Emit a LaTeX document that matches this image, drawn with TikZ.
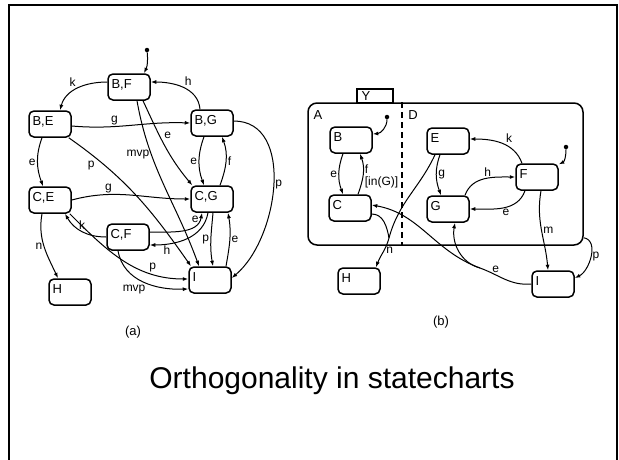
\documentclass[tikz,border=0pt]{standalone}
\usepackage{fontspec}
\setmainfont{Liberation Sans}
\usetikzlibrary{arrows.meta,positioning}

\begin{document}
\begin{tikzpicture}[x=1pt, y=-1pt,
        state/.style={rectangle, rounded corners=5pt, draw, line width=1.5pt, minimum width=42pt, text width=35pt, align=left, inner xsep=3.5pt, inner ysep=2pt, text height=12pt, text depth=10pt, font=\fontsize{13}{13}\selectfont},
        trans/.style={-{Latex[length=5.5pt,width=4pt]}, line width=1pt},
        plain/.style={line width=1pt},
        lbl/.style={font=\fontsize{12}{12}\selectfont, inner sep=1.5pt},
        dot/.style={circle, fill, inner sep=0pt, minimum size=4.5pt}
    ]
        \useasboundingbox (0,0) rectangle (619,459);
        \draw[line width=2pt] (9,5) rectangle (617,480);

        % (a) product automaton
        \node[state] (bf) at (129,87) {B,F};
        \node[state] (be) at (50,124) {B,E};
        \node[state] (bg) at (212,123) {B,G};
        \node[state] (ce) at (50,200) {C,E};
        \node[state] (cg) at (212,199) {C,G};
        \node[state] (cf) at (128,237) {C,F};
        \node[state] (ha) at (70,292) {H};
        \node[state] (ia) at (210,280) {I};
        \node[dot] (dbf) at (147,50) {};
        \node[lbl, font=\fontsize{13}{13}\selectfont] (capa) at (133,332) {(a)};

        \draw[trans] (dbf) to[out=-85,in=65] ([xshift=15pt]bf.north);
        \draw[trans] ([yshift=5pt]bf.west) to[out=180,in=75] node[lbl, above left] {k} ([xshift=10pt]be.north);
        \draw[trans] ([xshift=-12pt]bg.north) to[out=95,in=0] node[lbl, above right] {h} ([yshift=5pt]bf.east);
        \draw[trans] ([yshift=-2pt]be.east) to[out=-5,in=178] node[lbl, above, pos=0.35] {g} (bg.west);
        \draw[trans] ([xshift=-8pt]be.south) to[out=-110,in=110] node[lbl, left] {e} ([xshift=-7pt]ce.north);
        \draw[trans] ([xshift=-3pt]be.south east) to[out=-35,in=125] node[lbl, below left, pos=0.18] {p} ([xshift=-19pt]ia.north);
        \draw[trans] ([xshift=8pt]bf.south) to[out=-80,in=110] node[lbl, left, pos=0.3] {mvp} ([xshift=-11pt]ia.north);
        \draw[trans] ([xshift=14pt]bf.south) to[out=-65,in=130] node[lbl, above right, pos=0.45] {e} ([xshift=2pt]cg.north west);
        \draw[trans] ([xshift=-8pt]bg.south) to[out=-110,in=110] node[lbl, left] {e} ([xshift=-8pt]cg.north);
        \draw[trans] ([xshift=8pt]cg.north) to[out=70,in=-70] node[lbl, right] {f} ([xshift=10pt]bg.south);
        \draw[trans] ([yshift=2pt]bg.east) to[out=0,in=40] node[lbl, right] {p} ([yshift=2pt]ia.east);
        \draw[trans] (ce.east) to[out=15,in=180] node[lbl, above, pos=0.3] {g} (cg.west);
        \draw[trans] ([xshift=-8pt]ce.south) to[out=-100,in=115] node[lbl, left] {n} ([xshift=-12pt]ha.north);
        \draw[trans] (cf.west) to[out=180,in=-60] node[lbl, above] {k} ([xshift=15pt]ce.south);
        \draw[trans] ([yshift=5pt]cf.east) to[out=0,in=-100] node[lbl, above, pos=0.75] {e} ([xshift=-10pt]cg.south);
        \draw[trans] ([xshift=-4pt]cg.south) to[out=-100,in=0] node[lbl, below, pos=0.78] {h} ([yshift=-8pt]cf.east);
        \draw[trans] ([xshift=1pt]cg.south) to[out=-95,in=100] node[lbl, left] {p} ([xshift=3pt]ia.north);
        \draw[trans] ([xshift=16pt]ia.north) to[out=80,in=-80] node[lbl, right] {e} ([xshift=16pt]cg.south);
        \draw[trans] ([xshift=-2pt]ce.south east) to[out=-45,in=180] node[lbl, above, pos=0.75] {p} ([yshift=1pt]ia.west);
        \draw[trans] ([xshift=-10pt]cf.south) to[out=-80,in=182] node[lbl, below left, pos=0.55] {mvp} ([yshift=-9pt]ia.west);

        % (b) orthogonal components
        \node[draw, rounded corners=9pt, line width=1.5pt, minimum width=275pt, minimum height=142pt] (abox) at (445.5,174) {};
        \node[draw, line width=1.5pt, minimum width=36pt, minimum height=14pt, inner sep=0pt, font=\fontsize{13}{13}\selectfont] (ytab) at (375,96) {\hspace*{-18pt}Y};
        \draw[line width=1.3pt, dash pattern=on 6pt off 4pt] ([xshift=-43.5pt]abox.north) -- ([xshift=-43.5pt]abox.south);
        \node[lbl, font=\fontsize{13}{13}\selectfont] (la) at (318,115) {A};
        \node[lbl, font=\fontsize{13}{13}\selectfont] (ld) at (413,115) {D};

        \node[state] (b) at (351,140) {B};
        \node[state] (c) at (350,208) {C};
        \node[state] (e) at (448,141) {E};
        \node[state] (g) at (448,209) {G};
        \node[state] (f) at (537,177) {F};
        \node[state] (hb) at (359,281) {H};
        \node[state] (ib) at (553,284) {I};
        \node[dot] (db) at (387,117) {};
        \node[dot] (df) at (566,147) {};
        \coordinate (nj) at (389,238);
        \coordinate (ej) at (480,268);
        \node[lbl, font=\fontsize{13}{13}\selectfont] (capb) at (441,322) {(b)};

        \draw[trans] (db) to[out=-90,in=5] ([yshift=6pt]b.east);
        \draw[trans] ([xshift=-8pt]b.south) to[out=-110,in=110] node[lbl, left] {e} ([xshift=-7pt]c.north);
        \draw[trans] ([xshift=8pt]c.north) to[out=70,in=-70] node[lbl, right, align=left, pos=0.45] {f\\{[in(G)]}} ([xshift=9pt]b.south);
        \draw[trans] ([xshift=-15pt]f.north) to[out=110,in=0] node[lbl, above right, pos=0.45] {k} ([yshift=2pt]e.east);
        \draw[trans] (df) to[out=-90,in=25] ([yshift=-1pt]f.north east);
        \draw[trans] ([xshift=-8pt]e.south) to[out=-110,in=110] node[lbl, right] {g} ([xshift=-7pt]g.north);
        \draw[trans] ([xshift=17pt]g.north) to[out=70,in=180] node[lbl, above, pos=0.55] {h} (f.west);
        \draw[trans] ([xshift=-12pt]f.south) to[out=-110,in=0] node[lbl, below, pos=0.45] {e} (g.east);
        \draw[trans] ([xshift=4pt]f.south) to[out=-100,in=95] node[lbl, right] {m} ([xshift=-5pt]ib.north);
        \draw[trans] ([yshift=8pt]abox.south east) to[out=-10,in=25] node[lbl, right] {p} ([yshift=6pt]ib.east);
        \draw[plain] ([xshift=-13pt]e.south) to[out=-115,in=75] (nj);
        \draw[plain] ([yshift=-6pt]c.east) to[out=0,in=100] (nj);
        \draw[trans] (nj) to[out=-105,in=70] node[lbl, right, pos=0.4] {n} ([xshift=17pt]hb.north);
        \draw[plain] (ib.west) to[out=185,in=-20] node[lbl, above, pos=0.7] {e} (ej);
        \draw[trans] (ej) to[out=160,in=-10] ([yshift=3pt]c.east);
        \draw[trans] (ej) to[out=165,in=-100] ([xshift=7pt]g.south);

        % title
        \node[font=\fontsize{30}{36}\selectfont, anchor=base] (title) at (332,388) {Orthogonality in statecharts};
    \end{tikzpicture}
\end{document}
